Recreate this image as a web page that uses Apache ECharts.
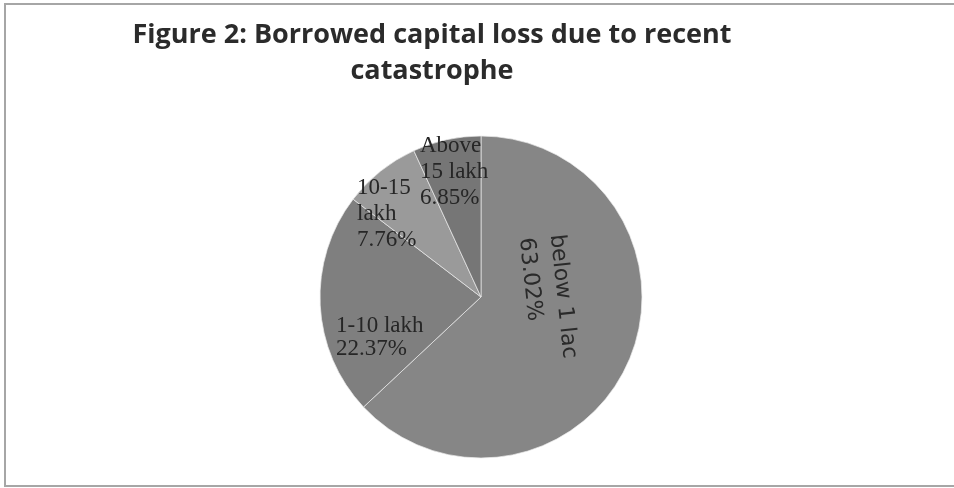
<!DOCTYPE html>
<html>
<head>
<meta charset="utf-8">
<script src="https://cdn.jsdelivr.net/npm/echarts@6/dist/echarts.min.js"></script>
<style>
  html, body { margin: 0; padding: 0; background: #fff; }
  #chart { width: 954px; height: 488px; }
</style>
</head>
<body>
<div id="chart"></div>
<script>
// Borrowed capital loss shares (percent), clockwise from 12 o'clock
const categories = ['below 1 lac', '1-10 lakh', '10-15 lakh', 'Above 15 lakh'];
const shares = [63.02, 22.37, 7.76, 6.85];
// How each category name is broken across lines in its label
const labelNames = ['below 1 lac', '1-10 lakh', '10-15\nlakh', 'Above\n15 lakh'];
const sliceColors = ['#868686', '#7f7f7f', '#9a9a9a', '#767676'];

// Label anchor points (left edge / vertical middle of each text block)
const labelSpots = [
  { x: 541, y: 236, rotate: -84 },
  { x: 336, y: 337 },
  { x: 357, y: 214 },
  { x: 420, y: 172 }
];

const chart = echarts.init(document.getElementById('chart'));

chart.setOption({
  animation: false,
  backgroundColor: '#ffffff',
  title: {
    text: 'Figure 2: Borrowed capital loss due to recent\ncatastrophe',
    left: 427,
    top: 12,
    textAlign: 'center',
    textStyle: {
      fontFamily: 'Open Sans',
      fontWeight: 'bold',
      fontSize: 27,
      lineHeight: 36,
      color: '#2b2b2b'
    }
  },
  graphic: [{
    type: 'rect',
    shape: { x: 5, y: 4, width: 960, height: 482 },
    style: { fill: 'none', stroke: '#a6a6a6', lineWidth: 2 },
    silent: true
  }],
  series: [{
    type: 'pie',
    center: [481, 297],
    radius: [0, 161],
    startAngle: 90,
    clockwise: true,
    silent: true,
    itemStyle: { borderColor: 'rgba(235,235,235,0.7)', borderWidth: 1 },
    label: {
      show: true,
      position: 'inside',
      fontFamily: 'Liberation Serif',
      fontSize: 23,
      lineHeight: 26,
      color: '#262626',
      align: 'left'
    },
    labelLine: { show: false },
    labelLayout: function (params) {
      const s = labelSpots[params.dataIndex];
      const out = { x: s.x, y: s.y, align: 'left', verticalAlign: 'middle' };
      if (s.rotate) {
        out.rotate = s.rotate;
      }
      return out;
    },
    data: categories.map(function (name, i) {
      const item = {
        name: name,
        value: shares[i],
        itemStyle: { color: sliceColors[i] },
        label: {
          formatter: labelNames[i] + '\n' + shares[i].toFixed(2) + '%'
        }
      };
      if (i === 0) {
        item.label.fontFamily = 'DejaVu Sans';
        item.label.fontSize = 22;
        item.label.lineHeight = 31;
        item.label.color = '#2a2a2a';
      }
      if (i === 1) {
        item.label.lineHeight = 23;
      }
      return item;
    })
  }]
});
</script>
</body>
</html>
